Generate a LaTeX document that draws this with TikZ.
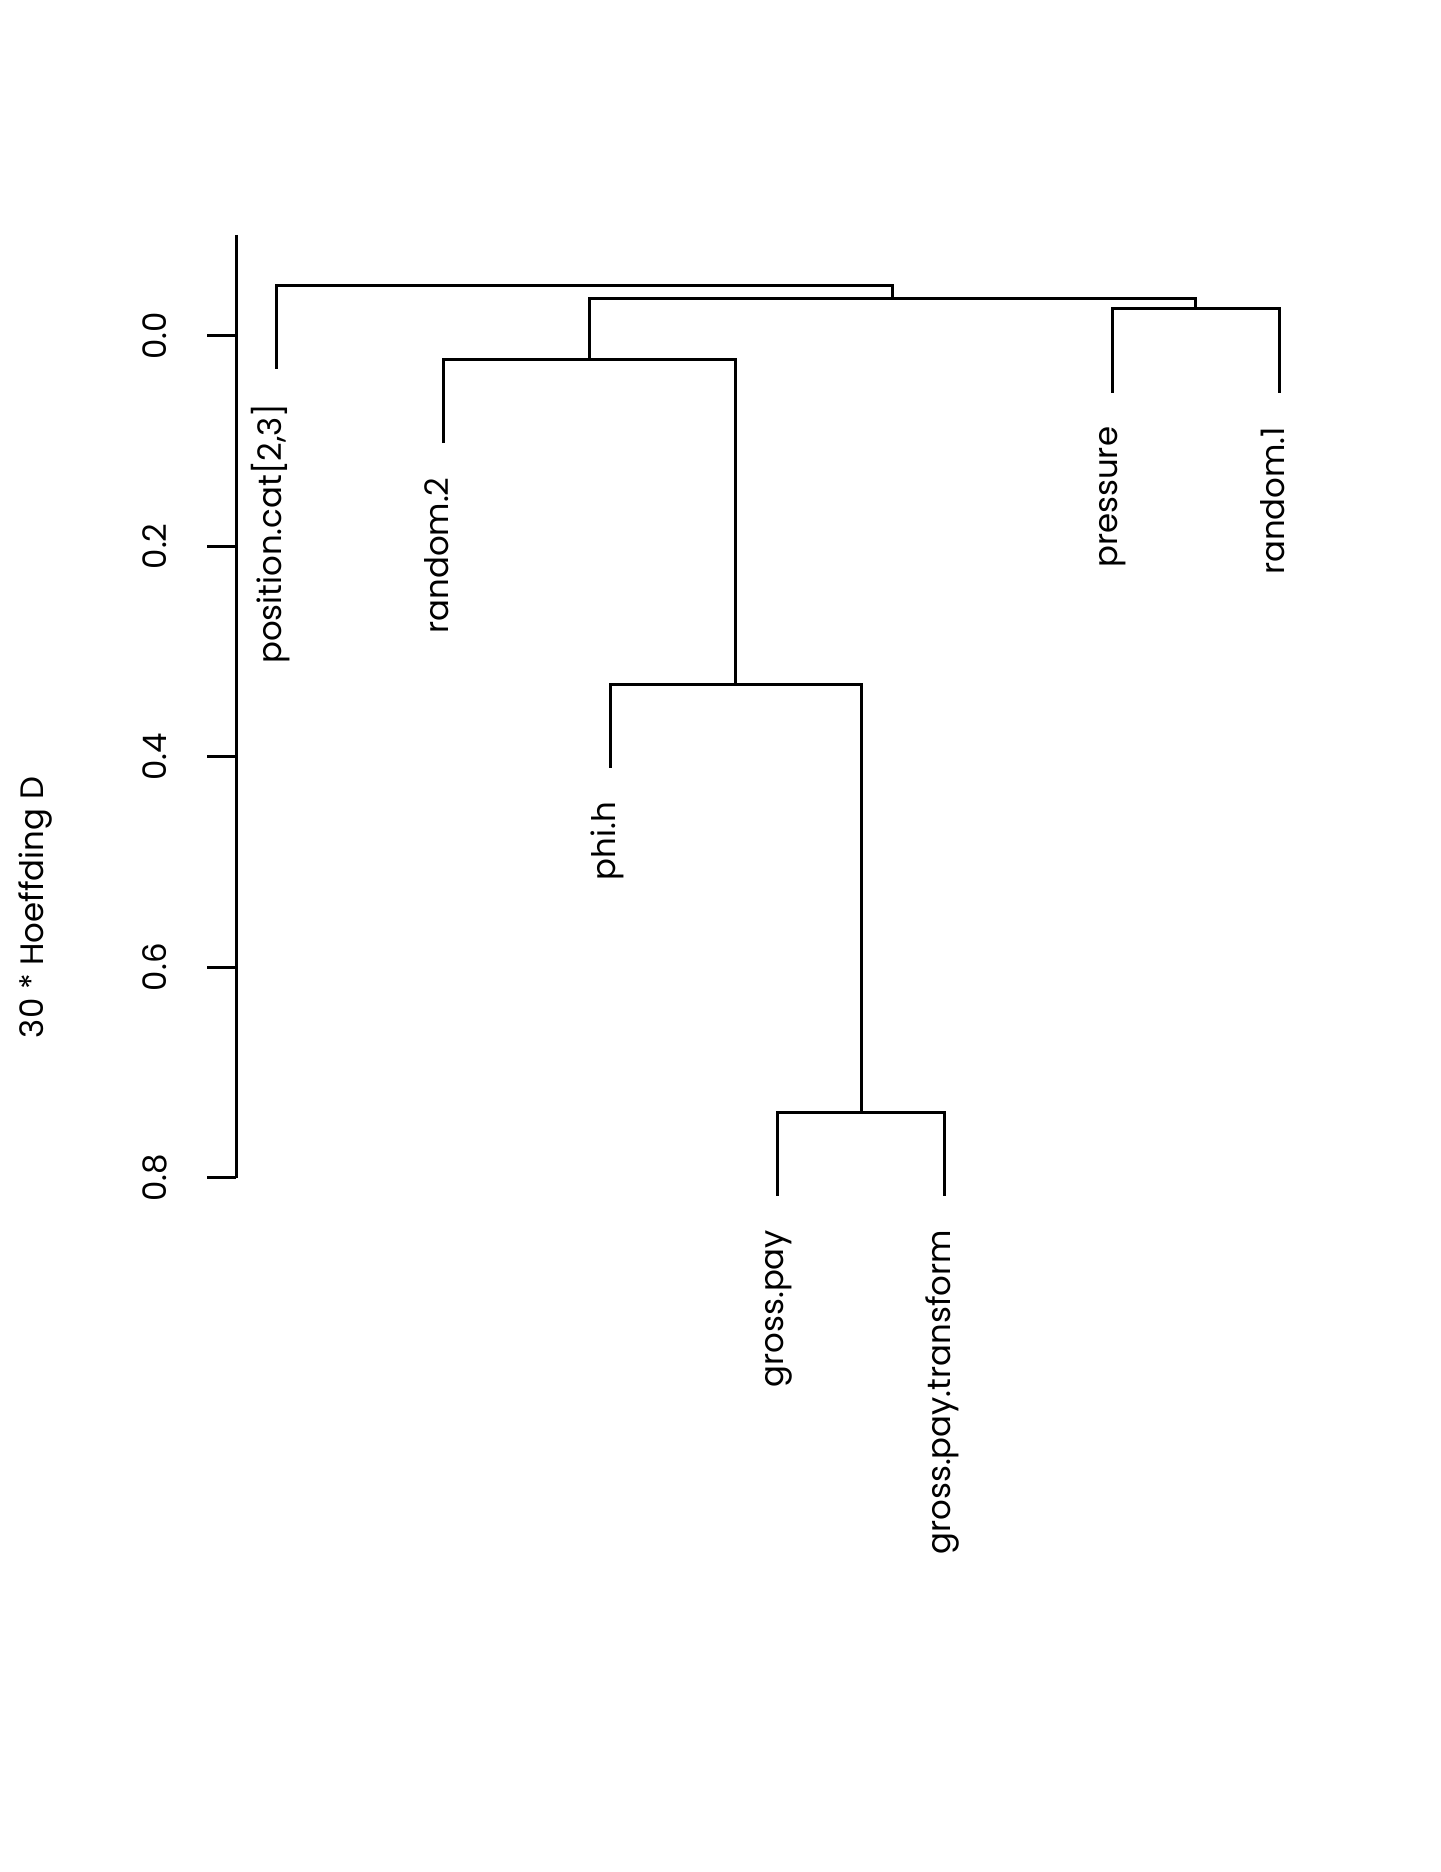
\documentclass[tikz,border=0pt]{standalone}
\usepackage{fontspec}
\setmainfont{Poppins}
\begin{document}
\begin{tikzpicture}[x=0.5pt,y=-0.5pt,
  lbl/.style={inner sep=0pt, font=\fontsize{16.2}{19}\selectfont},
  leaflabel/.style={lbl, rotate=90, anchor=mid east},
  ticklabel/.style={lbl, rotate=90, anchor=base},
  branch/.style={draw=black, line width=1.5pt, line cap=butt},
  axisline/.style={draw=black, line width=1.5pt, line cap=butt}]
\fill[white] (0,0) rectangle (1440,1872);
\useasboundingbox (0,0) rectangle (1440,1872);

% height axis: y = 336 + 1052*h
\coordinate (axtop) at (236,235);
\coordinate (axbot) at (236,1177.6);
\draw[axisline] (axtop) -- (axbot);
\foreach \h/\name [count=\i from 0] in {0.0/t0,0.2/t1,0.4/t2,0.6/t3,0.8/t4}{
  \coordinate (\name a) at (236,336+1052*\h);
  \coordinate (\name b) at (206.7,336+1052*\h);
  \draw[axisline] (\name a) -- (\name b);
  \node[ticklabel] (\name) at (166.7,336+1052*\h) {\h};
}
\node[ticklabel] (ylab) at (43,907.5) {30 * Hoeffding D};

% leaf ends
\coordinate (pc) at (276,369);
\coordinate (r2) at (443.2,443);
\coordinate (ph) at (610.4,767.5);
\coordinate (gp) at (777.6,1195.5);
\coordinate (gt) at (944.8,1195.5);
\coordinate (pr) at (1112,392.5);
\coordinate (r1) at (1279.2,392.5);

% merge points
\coordinate (mA) at (861.2,1112);
\coordinate (mB) at (735.8,684);
\coordinate (mC) at (589.5,359.5);
\coordinate (mD) at (1195.6,309);
\coordinate (mE) at (892.5,298.5);
\coordinate (mF) at (584.3,285.4);

\draw[branch] (gp) |- (mA) -| (gt);
\draw[branch] (ph) |- (mB) -| (mA);
\draw[branch] (r2) |- (mC) -| (mB);
\draw[branch] (pr) |- (mD) -| (r1);
\draw[branch] (mC) |- (mE) -| (mD);
\draw[branch] (pc) |- (mF) -| (mE);

% leaf labels
\node[leaflabel] (lpc) at (276,403) {position.cat[2,3]};
\node[leaflabel] (lr2) at (443.2,477) {random.2};
\node[leaflabel] (lph) at (610.4,801.5) {phi.h};
\node[leaflabel] (lgp) at (777.6,1229.5) {gross.pay};
\node[leaflabel] (lgt) at (944.8,1229.5) {gross.pay.transform};
\node[leaflabel] (lpr) at (1112,426.5) {pressure};
\node[leaflabel] (lr1) at (1279.2,426.5) {random.1};
\end{tikzpicture}
\end{document}
